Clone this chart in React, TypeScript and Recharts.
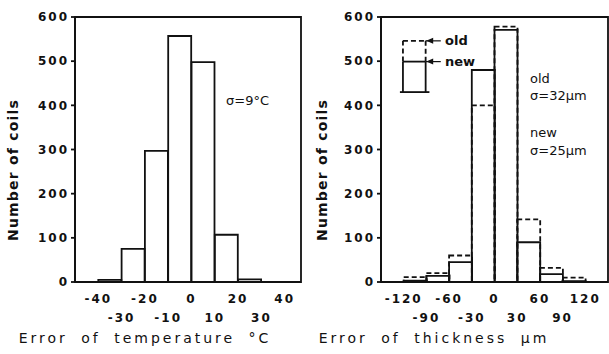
import React from 'react';
import {
  Bar,
  ComposedChart,
  Label,
  ReferenceArea,
  ReferenceDot,
  ReferenceLine,
  XAxis,
  YAxis,
} from 'recharts';

// left panel: temperature error, bins of 10 °C
const TEMP_BIN = 10;
const TEMP_START = [-40, -30, -20, -10, 0, 10, 20];
const TEMP_COUNT = [5, 75, 297, 557, 498, 107, 6];
const TEMP_TICKS = [-40, -30, -20, -10, 0, 10, 20, 30, 40];

// right panel: thickness error, bins of 30 µm
const THICK_BIN = 30;
const THICK_START = [-120, -90, -60, -30, 0, 30, 60, 90];
const THICK_OLD = [11, 20, 60, 400, 578, 142, 32, 10];
const THICK_NEW = [3, 14, 45, 480, 571, 90, 18, 2];
const THICK_TICKS = [-120, -90, -60, -30, 0, 30, 60, 90, 120];

const COUNT_TICKS = [0, 100, 200, 300, 400, 500, 600];

const INK = '#111';
const FONT = '"DejaVu Sans", sans-serif';
const SW = 1.8;

const tempRows = TEMP_START.map((s, i) => ({ mid: s + TEMP_BIN / 2, count: TEMP_COUNT[i] }));
const thickRows = THICK_START.map((s, i) => ({
  mid: s + THICK_BIN / 2,
  old: THICK_OLD[i],
  new: THICK_NEW[i],
}));

const tickStyle = { fontSize: 12, fontWeight: 700, fill: INK, fontFamily: FONT, letterSpacing: 2 };

// x labels alternate between two rows, like the original
function TwoRowTick(props: any) {
  const { x, y, payload, index } = props;
  const low = index % 2 === 1;
  return (
    <text x={x} y={y + (low ? 38 : 19)} textAnchor="middle" {...tickStyle}>
      {payload.value}
    </text>
  );
}

function YTitle({ x }: { x: number }) {
  return (
    <text
      transform={`translate(${x},170) rotate(-90)`}
      textAnchor="middle"
      fontFamily={FONT}
      fontSize={14}
      fontWeight={600}
      letterSpacing={1.2}
      fill={INK}
    >
      Number of coils
    </text>
  );
}

function XTitle({ x, text }: { x: number; text: string }) {
  return (
    <text
      x={x}
      y={343}
      textAnchor="middle"
      fontFamily={FONT}
      fontSize={14}
      letterSpacing={3}
      wordSpacing={6}
      fill={INK}
    >
      {text}
    </text>
  );
}

const noteStyle = { fontFamily: FONT, fontSize: 13, fill: INK };

function TempChart() {
  const dom: [number, number] = [-50, 47];
  return (
    <ComposedChart
      width={305}
      height={354}
      data={tempRows}
      margin={{ top: 17, right: 4, bottom: 0, left: 15 }}
      barCategoryGap={0}
      barGap={0}
    >
      <XAxis
        type="number"
        dataKey="mid"
        domain={dom}
        ticks={TEMP_TICKS}
        allowDataOverflow
        height={72}
        tickLine={false}
        tickSize={0}
        axisLine={{ stroke: INK, strokeWidth: SW }}
        tick={<TwoRowTick />}
        interval={0}
      >
        <Label content={() => <XTitle x={145} text="Error of temperature °C" />} />
      </XAxis>
      <YAxis
        domain={[0, 600]}
        ticks={COUNT_TICKS}
        width={60}
        tickSize={4}
        tickMargin={2}
        tick={tickStyle}
        tickLine={{ stroke: INK, strokeWidth: SW }}
        axisLine={{ stroke: INK, strokeWidth: SW }}
      >
        <Label content={() => <YTitle x={18} />} />
      </YAxis>
      <Bar dataKey="count" fill="none" stroke={INK} strokeWidth={SW} isAnimationActive={false} />
      <ReferenceArea
        x1={dom[0]}
        x2={dom[1]}
        y1={0}
        y2={600}
        fill="none"
        stroke={INK}
        strokeWidth={SW}
        fillOpacity={0}
      >
        <Label
          content={() => (
            <text x={226} y={105} {...noteStyle}>
              σ=9°C
            </text>
          )}
        />
      </ReferenceArea>
    </ComposedChart>
  );
}

const arrowHead = (p: any) => (
  <path d={`M${p.cx - 4},${p.cy} L${p.cx + 3},${p.cy - 3} L${p.cx + 3},${p.cy + 3} Z`} fill={INK} />
);

function ThickChart() {
  const dom: [number, number] = [-150, 150];
  const dash = '5 3';
  return (
    <ComposedChart
      width={304}
      height={354}
      data={thickRows}
      margin={{ top: 17, right: 1, bottom: 0, left: 16 }}
      barCategoryGap={0}
      barGap={0}
    >
      <XAxis
        xAxisId="new"
        type="number"
        dataKey="mid"
        domain={dom}
        ticks={THICK_TICKS}
        allowDataOverflow
        height={72}
        tickLine={false}
        tickSize={0}
        axisLine={{ stroke: INK, strokeWidth: SW }}
        tick={<TwoRowTick />}
        interval={0}
      >
        <Label content={() => <XTitle x={129} text="Error of thickness µm" />} />
      </XAxis>
      <XAxis xAxisId="old" type="number" dataKey="mid" domain={dom} ticks={THICK_TICKS} allowDataOverflow hide />
      <YAxis
        domain={[0, 600]}
        ticks={COUNT_TICKS}
        width={60}
        tickSize={4}
        tickMargin={2}
        tick={tickStyle}
        tickLine={{ stroke: INK, strokeWidth: SW }}
        axisLine={{ stroke: INK, strokeWidth: SW }}
      >
        <Label content={() => <YTitle x={22} />} />
      </YAxis>
      <Bar
        xAxisId="old"
        dataKey="old"
        fill="none"
        stroke={INK}
        strokeWidth={SW}
        strokeDasharray={dash}
        isAnimationActive={false}
      />
      <Bar xAxisId="new" dataKey="new" fill="none" stroke={INK} strokeWidth={SW} isAnimationActive={false} />
      <ReferenceArea
        xAxisId="new"
        x1={dom[0]}
        x2={dom[1]}
        y1={0}
        y2={600}
        fill="none"
        fillOpacity={0}
        stroke={INK}
        strokeWidth={SW}
      >
        <Label
          content={() => (
            <g {...noteStyle}>
              <text x={140} y={45} fontWeight={600}>old</text>
              <text x={140} y={66} fontWeight={600}>new</text>
              <text x={225} y={83}>old</text>
              <text x={225} y={100}>σ=32µm</text>
              <text x={225} y={137}>new</text>
              <text x={225} y={155}>σ=25µm</text>
            </g>
          )}
        />
      </ReferenceArea>
      {/* legend glyph drawn in data units */}
      <ReferenceLine xAxisId="new" segment={[{ x: -121, y: 499 }, { x: -121, y: 546 }]} stroke={INK} strokeWidth={SW} strokeDasharray={dash} />
      <ReferenceLine xAxisId="new" segment={[{ x: -121, y: 546 }, { x: -91, y: 546 }]} stroke={INK} strokeWidth={SW} strokeDasharray={dash} />
      <ReferenceLine xAxisId="new" segment={[{ x: -91, y: 546 }, { x: -91, y: 499 }]} stroke={INK} strokeWidth={SW} strokeDasharray={dash} />
      <ReferenceLine xAxisId="new" segment={[{ x: -121, y: 430 }, { x: -121, y: 499 }]} stroke={INK} strokeWidth={SW} />
      <ReferenceLine xAxisId="new" segment={[{ x: -121, y: 499 }, { x: -91, y: 499 }]} stroke={INK} strokeWidth={SW} />
      <ReferenceLine xAxisId="new" segment={[{ x: -91, y: 499 }, { x: -91, y: 430 }]} stroke={INK} strokeWidth={SW} />
      <ReferenceLine xAxisId="new" segment={[{ x: -125, y: 430 }, { x: -86, y: 430 }]} stroke={INK} strokeWidth={SW} />
      <ReferenceLine xAxisId="new" segment={[{ x: -91, y: 546 }, { x: -71, y: 546 }]} stroke={INK} strokeWidth={1.2} />
      <ReferenceLine xAxisId="new" segment={[{ x: -91, y: 499 }, { x: -71, y: 499 }]} stroke={INK} strokeWidth={1.2} />
      <ReferenceDot xAxisId="new" x={-85} y={546} shape={arrowHead} />
      <ReferenceDot xAxisId="new" x={-85} y={499} shape={arrowHead} />
    </ComposedChart>
  );
}

export default function App() {
  return (
    <div style={{ position: 'absolute', left: 0, top: 0, width: 609, height: 354, background: '#fff', display: 'flex' }}>
      <TempChart />
      <ThickChart />
    </div>
  );
}
